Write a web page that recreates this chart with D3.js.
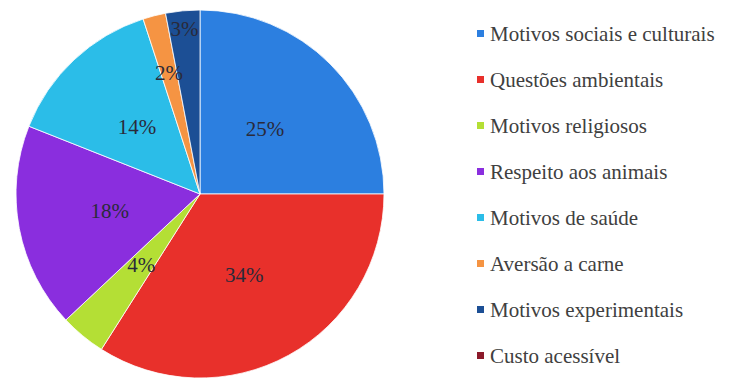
<!DOCTYPE html>
<html>
<head>
<meta charset="utf-8">
<script src="https://cdn.jsdelivr.net/npm/d3@7"></script>
</head>
<body style="margin:0">
<svg id="s" width="736" height="382"></svg>
<script>
// Reasons for choosing a vegetarian diet (% of answers)
const categories = [
  "Motivos sociais e culturais",
  "Questões ambientais",
  "Motivos religiosos",
  "Respeito aos animais",
  "Motivos de saúde",
  "Aversão a carne",
  "Motivos experimentais",
  "Custo acessível"
];
const values = [25, 34, 4, 18, 14, 2, 3, 0];
const colors = ["#2c7fe0", "#e8302b", "#b4df35", "#8a2ede", "#2bbde8", "#f59443", "#1c4f95", "#8c1a2a"];

// Label distance from the centre as a fraction of the radius (thin slices pushed outward)
const labelRadius = { "Aversão a carne": 0.68, "Motivos experimentais": 0.9 };

const fam = "Liberation Serif";

const svg = d3.select("#s");
const cx = 200, cy = 194, r = 184;

const data = categories.map((c, i) => ({ name: c, value: values[i], color: colors[i] }));
const arcs = d3.pie().sort(null).value(d => d.value)(data).filter(a => a.data.value > 0);
const arc = d3.arc().innerRadius(0).outerRadius(r);

svg.append("g")
  .attr("transform", `translate(${cx},${cy})`)
  .selectAll("path")
  .data(arcs)
  .join("path")
  .attr("d", arc)
  .attr("fill", d => d.data.color)
  .attr("stroke", "#ffffff")
  .attr("stroke-width", 0.8);

const mid = d => (d.startAngle + d.endAngle) / 2;
const kOf = d => labelRadius[d.data.name] || 0.5;

svg.selectAll("text.lbl")
  .data(arcs)
  .join("text")
  .attr("class", "lbl")
  .attr("x", d => cx + Math.sin(mid(d)) * r * kOf(d))
  .attr("y", d => cy - Math.cos(mid(d)) * r * kOf(d) + 7)
  .attr("text-anchor", "middle")
  .attr("font-family", fam)
  .style("font-family", `"${fam}"`)
  .style("font-size", "21px")
  .attr("fill", "#2a2a3a")
  .text(d => d.value + "%");

// Legend
const rowY = d3.scalePoint().domain(categories).range([34, 356]);

svg.selectAll("rect.key")
  .data(data)
  .join("rect")
  .attr("class", "key")
  .attr("x", 477)
  .attr("y", d => rowY(d.name) - 4)
  .attr("width", 7)
  .attr("height", 7)
  .attr("fill", d => d.color);

svg.selectAll("text.leg")
  .data(data)
  .join("text")
  .attr("class", "leg")
  .attr("x", 490)
  .attr("y", d => rowY(d.name) + 7)
  .attr("font-family", fam)
  .style("font-family", `"${fam}"`)
  .style("font-size", "21px")
  .attr("fill", "#404040")
  .text(d => d.name);
</script>
</body>
</html>
